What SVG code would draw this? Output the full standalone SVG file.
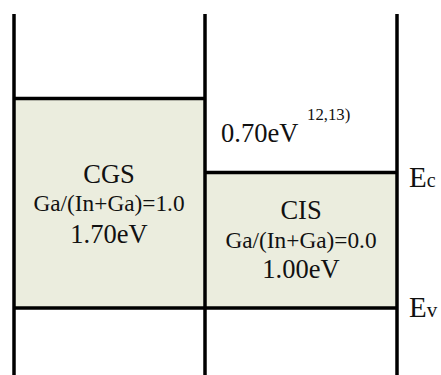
<svg xmlns="http://www.w3.org/2000/svg" width="441" height="375" viewBox="0 0 441 375">
<style>
.t{font-family:"Liberation Serif","Times New Roman",serif;fill:#111}
.ln{stroke:#000;stroke-width:3.5;fill:none}
.band{fill:#EBEDDE}
</style>
<rect width="441" height="375" fill="#fff"/>
<g id="cgs">
<rect class="band" x="14" y="98" width="191" height="210"/>
<text class="t" x="109" y="183" font-size="26.5" text-anchor="middle">CGS</text>
<text class="t" x="109" y="211" font-size="23.3" text-anchor="middle">Ga/(In+Ga)=1.0</text>
<text class="t" x="109" y="243" font-size="26.5" text-anchor="middle">1.70eV</text>
</g>
<g id="cis">
<rect class="band" x="205" y="172" width="192" height="136"/>
<text class="t" x="301" y="219" font-size="26.5" text-anchor="middle">CIS</text>
<text class="t" x="301" y="248" font-size="23.3" text-anchor="middle">Ga/(In+Ga)=0.0</text>
<text class="t" x="301" y="278" font-size="26.5" text-anchor="middle">1.00eV</text>
</g>
<g id="connectors">
<line class="ln" x1="14" y1="14" x2="14" y2="375"/>
<line class="ln" x1="205" y1="14" x2="205" y2="375"/>
<line class="ln" x1="397" y1="14" x2="397" y2="375"/>
<line class="ln" x1="14" y1="98.5" x2="205" y2="98.5"/>
<line class="ln" x1="205" y1="172.5" x2="397" y2="172.5"/>
<line class="ln" x1="14" y1="308" x2="397" y2="308"/>
</g>
<g id="labels">
<text class="t" x="221" y="142" font-size="26.5">0.70eV</text>
<text class="t" x="307" y="120" font-size="16.8">12,13)</text>
<text class="t" x="409" y="187" font-size="29">E<tspan font-size="20">c</tspan></text>
<text class="t" x="409" y="317" font-size="29">E<tspan font-size="21">v</tspan></text>
</g>
</svg>
